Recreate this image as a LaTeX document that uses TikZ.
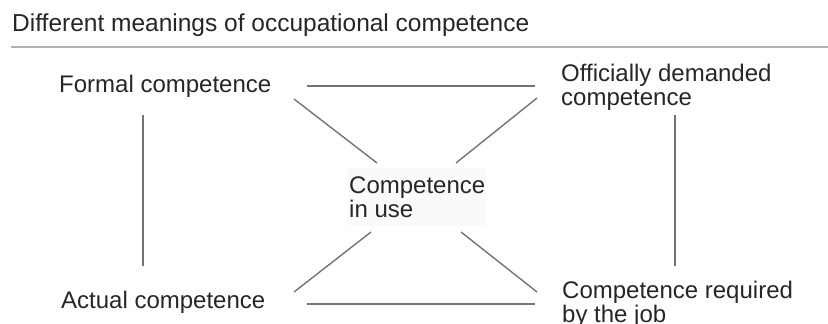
\documentclass[tikz,border=0pt]{standalone}
\usepackage{fontspec}
\setmainfont{Liberation Sans}
\usetikzlibrary{calc}

\begin{document}
\begin{tikzpicture}[x=1pt, y=-1pt,
  term/.style={anchor=base west, inner sep=0pt, align=left, text=black!85,
    font=\fontsize{24}{23.5}\selectfont},
  link/.style={draw=black!55, line width=1.4pt}]

\useasboundingbox (0,0) rectangle (828,324);

% Heading with its rule
\node[term, font=\fontsize{24.5}{26}\selectfont] (title) at (12,31) {Different meanings of occupational competence};
\draw[black!30, line width=1.8pt] ($(title.base west)+(-1,16)$) -- ($(title.base west)+(816,16)$);

% The five kinds of competence (base = last line)
\node[term] (formal) at (59,92) {Formal competence};
\node[term] (official) at (561,105) {Officially demanded\\competence};
\node[term, fill=black!2, inner xsep=1pt, inner ysep=9pt] (inuse) at (348,217) {Competence\\in use};
\node[term] (actual) at (61,308) {Actual competence};
\node[term] (required) at (562,322) {Competence required\\by the job};

% Outer frame
\draw[link] ($(formal.base west)+(248,-6)$) -- ($(official.base west)+(-26,-19)$);
\draw[link] ($(actual.base west)+(246,-4)$) -- ($(required.base west)+(-27,-18)$);
\draw[link] ($(formal.base west)+(84,23)$) -- ($(actual.base west)+(82,-42)$);
\draw[link] ($(official.base west)+(114,10)$) -- ($(required.base west)+(113,-56)$);

% Diagonals meeting at the middle
\draw[link] ($(formal.base west)+(235,7)$) -- ($(inuse.base west)+(29,-54)$);
\draw[link] ($(official.base west)+(-24,-7)$) -- ($(inuse.base west)+(108,-54)$);
\draw[link] ($(actual.base west)+(233,-16)$) -- ($(inuse.base west)+(23,15)$);
\draw[link] ($(required.base west)+(-25,-30)$) -- ($(inuse.base west)+(113,15)$);

\end{tikzpicture}
\end{document}
